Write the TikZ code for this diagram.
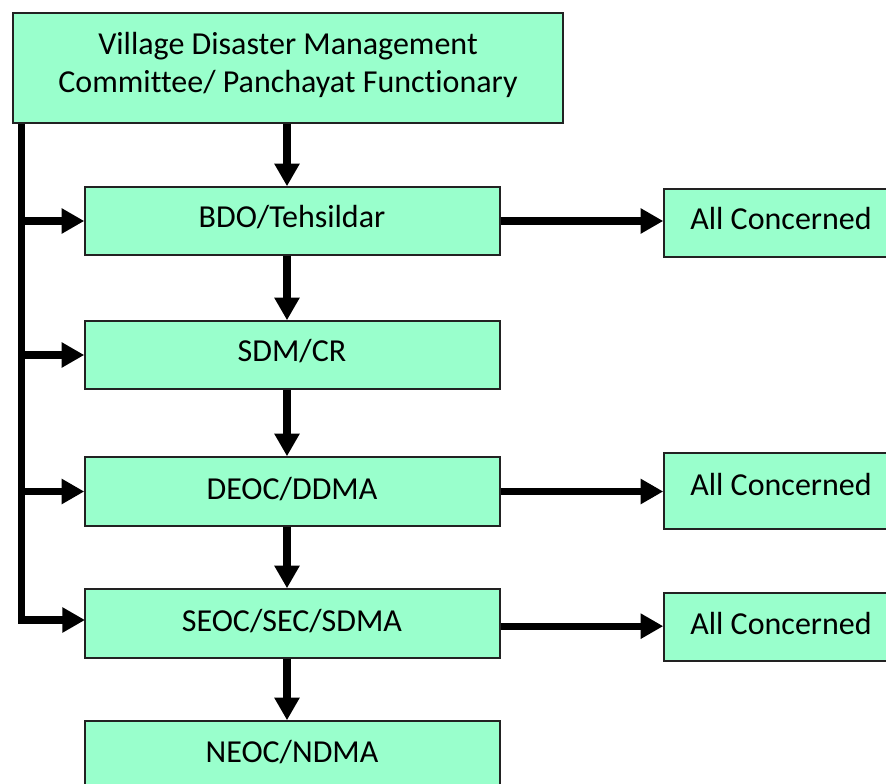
\documentclass[tikz,border=0pt]{standalone}
\usepackage{fontspec}
\setmainfont{Carlito}[Ligatures=NoCommon]
\usetikzlibrary{arrows.meta,fit}
\definecolor{boxfill}{HTML}{99FFCC}
\definecolor{boxline}{HTML}{222222}
\tikzset{
  box/.style={draw=boxline, line width=1.1pt, fill=boxfill, inner sep=0pt},
  lbl/.style={anchor=base, inner sep=0pt, font=\fontsize{24}{29}\selectfont},
  flow/.style={line width=5.4pt, -{Triangle[length=17pt,width=18pt]}, line join=miter},
}
\begin{document}
\begin{tikzpicture}[x=0.75pt, y=-0.75pt]
  \useasboundingbox (0,0) rectangle (886,784);
  \clip (0,0) rectangle (886,784);

  % boxes
  \node[box, fit={(13,13) (563,123)}] (vdmc) {};
  \node[box, fit={(85,187) (500,255)}] (bdo) {};
  \node[box, fit={(85,321) (500,389)}] (sdm) {};
  \node[box, fit={(85,457) (500,526)}] (deoc) {};
  \node[box, fit={(85,589) (500,658)}] (seoc) {};
  \node[box, fit={(85,721) (500,800)}] (neoc) {};
  \node[box, fit={(664,189) (900,257)}] (ac1) {};
  \node[box, fit={(664,453) (900,529)}] (ac2) {};
  \node[box, fit={(664,593) (900,661)}] (ac3) {};

  % labels
  \node[lbl] (vdmc1) at (288,55) {Village Disaster Management};
  \node[lbl] (vdmc2) at (288,93) {Committee/ Panchayat Functionary};
  \node[lbl] (bdot) at (292,228) {BDO/Tehsildar};
  \node[lbl] (sdmt) at (292,362) {SDM/CR};
  \node[lbl] (deoct) at (292,499) {DEOC/DDMA};
  \node[lbl] (seoct) at (292,631) {SEOC/SEC/SDMA};
  \node[lbl] (neoct) at (292,762) {NEOC/NDMA};
  \node[lbl] (ac1t) at (781,230) {All Concerned};
  \node[lbl] (ac2t) at (781,495) {All Concerned};
  \node[lbl] (ac3t) at (781,634) {All Concerned};

  % main chain
  \coordinate (spine) at (287,0);
  \draw[flow] (vdmc.south -| spine) -- (bdo.north -| spine);
  \draw[flow] (bdo.south -| spine) -- (sdm.north -| spine);
  \draw[flow] (sdm.south -| spine) -- (deoc.north -| spine);
  \draw[flow] (deoc.south -| spine) -- (seoc.north -| spine);
  \draw[flow] (seoc.south -| spine) -- (neoc.north -| spine);

  % left bus from the village committee
  \coordinate (bus) at (21.5,0);
  \coordinate (seocin) at (85,620);
  \draw[flow] (vdmc.south -| bus) |- (seocin);
  \draw[flow] (bus |- bdo.west) -- (bdo.west);
  \draw[flow] (bus |- sdm.west) -- (sdm.west);
  \draw[flow] (bus |- deoc.west) -- (deoc.west);

  % outgoing to all concerned
  \draw[flow] (bdo.east) -- (bdo.east -| ac1.west);
  \draw[flow] (deoc.east) -- (deoc.east -| ac2.west);
  \draw[flow] ([yshift=-2pt]seoc.east) -- ([yshift=-2pt]seoc.east -| ac3.west);
\end{tikzpicture}
\end{document}
